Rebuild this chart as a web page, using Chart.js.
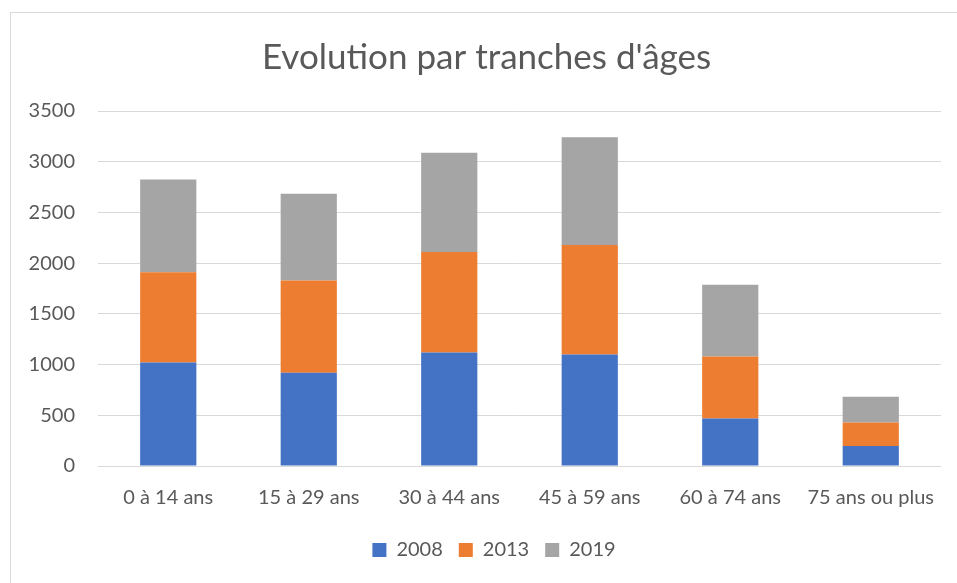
<!DOCTYPE html>
<html>
<head>
<meta charset="utf-8">
<script src="https://cdn.jsdelivr.net/npm/chart.js@4"></script>
<style>
  html, body { margin: 0; padding: 0; background: #fff; overflow: hidden; }
  #wrap { position: relative; width: 957px; height: 583px; }
  #frame { position: absolute; left: 10px; top: 12px; width: 1000px; height: 1000px; border: 1px solid #d9d9d9; pointer-events: none; }
</style>
</head>
<body>
<div id="wrap">
  <canvas id="myChart" width="957" height="583"></canvas>
  <div id="frame"></div>
</div>
<script>
var categories = ['0 à 14 ans', '15 à 29 ans', '30 à 44 ans', '45 à 59 ans', '60 à 74 ans', '75 ans ou plus'];
var values2008 = [1020, 920, 1120, 1100, 468, 198];
var values2013 = [890, 910, 990, 1080, 612, 230];
var values2019 = [915, 853, 978, 1060, 708, 254];
var yTicks = [0, 500, 1000, 1500, 2000, 2500, 3000, 3500];

var textColor = '#595959';
var fontFamily = 'Lato, "Open Sans", sans-serif';

var ctx = document.getElementById('myChart').getContext('2d');

// title and legend in the original are centred on the whole frame, not the plot
var centerShift = {
    id: 'centerShift',
    afterLayout: function (chart) {
        chart.legend.left += 47;
        chart.titleBlock.left += 32;
    }
};

var myChart = new Chart(ctx, {
    type: 'bar',
    data: {
        labels: categories,
        datasets: [
            { label: '2008', data: values2008, backgroundColor: '#4472C4' },
            { label: '2013', data: values2013, backgroundColor: '#ED7D31' },
            { label: '2019', data: values2019, backgroundColor: '#A5A5A5' }
        ]
    },
    options: {
        responsive: false,
        animation: false,
        devicePixelRatio: 1,
        barPercentage: 0.4,
        categoryPercentage: 1,
        layout: { padding: { top: 12, right: 16, bottom: 13, left: 0 } },
        plugins: {
            title: {
                display: true,
                text: "Evolution par tranches d'âges",
                color: textColor,
                font: { family: fontFamily, size: 35, weight: 'normal' },
                padding: { top: 25, bottom: 32 }
            },
            legend: {
                position: 'bottom',
                labels: {
                    color: textColor,
                    font: { family: fontFamily, size: 20 },
                    boxWidth: 14,
                    boxHeight: 14,
                    padding: 16
                }
            },
            tooltip: { enabled: false }
        },
        scales: {
            x: {
                stacked: true,
                afterFit: function (scale) { scale.height = 58; },
                grid: { display: false, drawTicks: false },
                border: { display: false },
                ticks: { color: textColor, font: { family: fontFamily, size: 20 }, padding: 20, maxRotation: 0 }
            },
            y: {
                stacked: true,
                min: 0,
                max: 3500,
                afterFit: function (scale) { scale.width = 98; },
                afterBuildTicks: function (scale) {
                    scale.ticks = yTicks.map(function (v) { return { value: v }; });
                },
                grid: { color: '#d9d9d9', lineWidth: 1, drawTicks: false },
                border: { display: false },
                ticks: {
                    color: textColor,
                    font: { family: fontFamily, size: 20 },
                    padding: 23,
                    callback: function (v) { return String(v); }
                }
            }
        }
    },
    plugins: [centerShift]
});
</script>
</body>
</html>
